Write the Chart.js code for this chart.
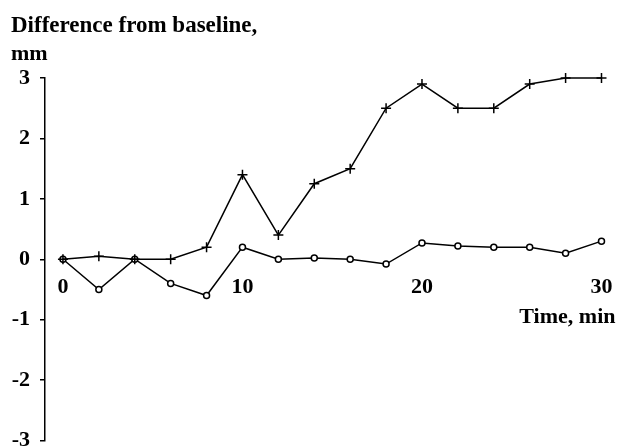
<!DOCTYPE html>
<html>
<head>
<meta charset="utf-8">
<script src="https://cdn.jsdelivr.net/npm/chart.js@4"></script>
<style>
  html, body { margin: 0; padding: 0; background: #fff; }
  #wrap { width: 622px; height: 447px; }
</style>
</head>
<body>
<div id="wrap"><canvas id="chart"></canvas></div>
<script>
const minutes = [0, 2, 4, 6, 8, 10, 12, 14, 16, 18, 20, 22, 24, 26, 28, 30]
const crossSeries = [0, 0.05, 0, 0, 0.2, 1.4, 0.4, 1.25, 1.5, 2.5, 2.9, 2.5, 2.5, 2.9, 3.0, 3.0]
const circleSeries = [0, -0.5, 0, -0.4, -0.6, 0.2, 0, 0.02, 0, -0.08, 0.27, 0.22, 0.2, 0.2, 0.1, 0.3]
const xTicks = [0, 10, 20, 30]
const yTitle = ['Difference from baseline,', 'mm']
const xTitle = 'Time, min'

const serif = "'Liberation Serif', 'Times New Roman', serif"

// the y title sits above the plot, left aligned, on two lines
const titlePlugin = {
  id: 'ytitle',
  afterDraw(chart) {
    const ctx = chart.ctx
    ctx.save()
    ctx.fillStyle = '#000'
    ctx.font = 'bold 23px ' + serif
    ctx.textAlign = 'left'
    ctx.textBaseline = 'alphabetic'
    ctx.fillText(yTitle[0], 11, 32)
    ctx.font = 'bold 22px ' + serif
    ctx.fillText(yTitle[1], 11, 60)
    ctx.restore()
  }
}

const toPoints = vals => vals.map((v, i) => ({ x: minutes[i], y: v }))

new Chart('chart', {
  type: 'line',
  data: {
    datasets: [
      {
        data: toPoints(crossSeries),
        borderColor: '#000',
        borderWidth: 1.5,
        pointStyle: 'cross',
        pointRadius: 5,
        pointBorderWidth: 1.5,
        pointBorderColor: '#000',
        tension: 0,
        clip: false
      },
      {
        data: toPoints(circleSeries),
        borderColor: '#000',
        borderWidth: 1.5,
        pointStyle: 'circle',
        pointRadius: 3,
        pointBorderWidth: 1.5,
        pointBorderColor: '#000',
        pointBackgroundColor: '#fff',
        tension: 0,
        clip: false
      }
    ]
  },
  options: {
    responsive: true,
    maintainAspectRatio: false,
    animation: false,
    layout: { padding: { top: 78, left: 0, right: 5, bottom: 6 } },
    plugins: { legend: { display: false }, tooltip: { enabled: false } },
    scales: {
      x: {
        type: 'linear',
        min: -1,
        max: 30.78,
        position: { y: 0 },
        afterBuildTicks: s => { s.ticks = xTicks.map(v => ({ value: v })) },
        afterFit: s => { s.paddingLeft = 0; s.paddingRight = 0 },
        grid: { display: false, drawTicks: false },
        border: { display: false },
        ticks: {
          color: '#000',
          padding: 15,
          maxRotation: 0,
          font: { family: serif, size: 22, weight: 'bold' }
        },
        title: {
          display: true,
          text: xTitle,
          align: 'end',
          color: '#000',
          padding: { top: -12, bottom: 0 },
          font: { family: serif, size: 22, weight: 'bold' }
        }
      },
      y: {
        min: -3,
        max: 3,
        afterFit: s => { s.width = 45; s.paddingTop = 0; s.paddingBottom = 0 },
        grid: {
          drawOnChartArea: false,
          drawTicks: true,
          tickLength: 5,
          color: '#000',
          lineWidth: 1.5
        },
        border: { display: true, color: '#000', width: 1.5 },
        ticks: {
          stepSize: 1,
          color: '#000',
          padding: 10,
          font: { family: serif, size: 22, weight: 'bold' }
        }
      }
    }
  },
  plugins: [titlePlugin]
})
</script>
</body>
</html>
